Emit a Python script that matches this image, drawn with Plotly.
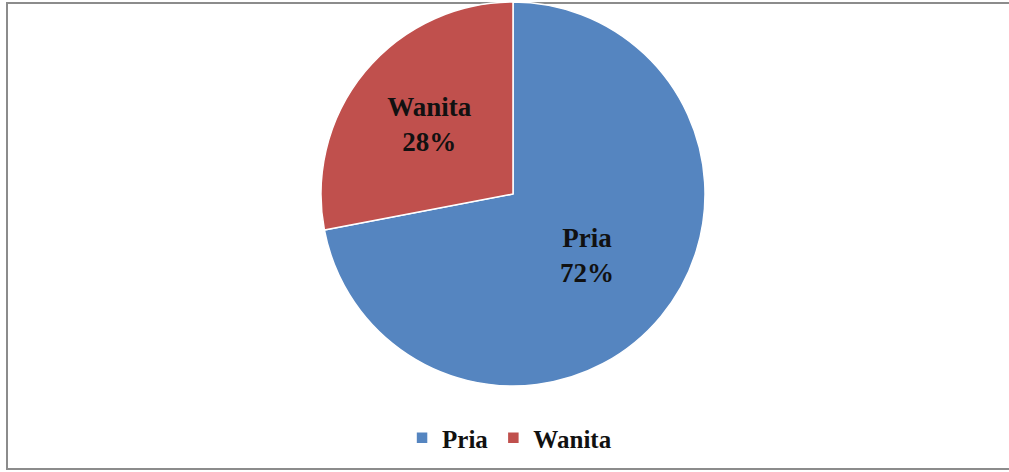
import plotly.graph_objects as go

labels = ["Pria", "Wanita"]
values = [72, 28]
colors = ["#5585C0", "#C0504D"]

W, H = 1009, 472
cx, cy, r = 513, 194, 192

fig = go.Figure()
fig.add_trace(go.Pie(
    labels=labels,
    values=values,
    sort=False,
    direction="clockwise",
    rotation=0,
    marker=dict(colors=colors, line=dict(color="white", width=1.5)),
    texttemplate="<b>%{label}<br>%{percent:.0%}</b>",
    textposition="inside",
    insidetextorientation="horizontal",
    textfont=dict(family="Liberation Serif", size=27, color="#111111"),
    domain=dict(x=[(cx - r) / W, (cx + r) / W], y=[(H - cy - r) / H, (H - cy + r) / H]),
    hoverinfo="label+percent",
))

# frame
fig.add_shape(type="rect", xref="paper", yref="paper", x0=7 / W, x1=1.02, y0=(H - 469) / H, y1=(H - 3) / H,
              line=dict(color="#8c8c8c", width=2), fillcolor="rgba(0,0,0,0)", layer="below")

fig.update_layout(
    width=W, height=H,
    margin=dict(l=0, r=0, t=0, b=0),
    paper_bgcolor="white",
    plot_bgcolor="white",
    showlegend=True,
    legend=dict(orientation="h", x=0.505, xanchor="center", y=(H - 438) / H, yanchor="middle",
                font=dict(family="Liberation Serif", size=25, color="#111111", weight="bold"),
                bgcolor="rgba(0,0,0,0)", itemwidth=30),
)

fig.write_html("out.html", config={"displayModeBar": False},
               post_script="document.body.style.margin='0';document.body.style.overflow='hidden';")
